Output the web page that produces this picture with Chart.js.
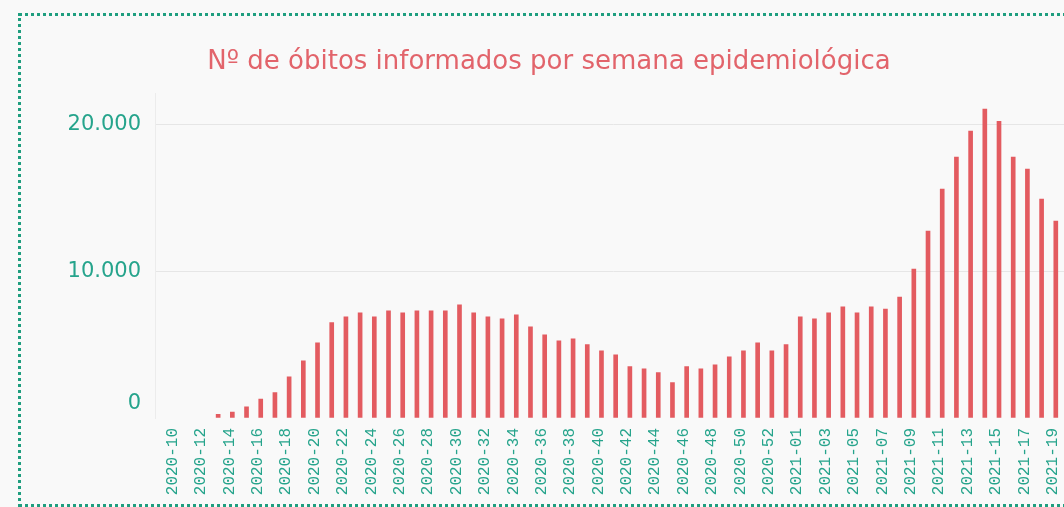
<!DOCTYPE html>
<html>
<head>
<meta charset="utf-8">
<script src="https://cdn.jsdelivr.net/npm/chart.js@4"></script>
<style>
  body { margin: 0; background: #f9f9f9; overflow: hidden; }
  #box {
    position: absolute; left: 18px; top: 13px;
    width: 1056px; height: 488px;
    border: 3px dotted #1f9e7f;
  }
  canvas { display: block; }
</style>
</head>
<body>
<div id="box"><canvas id="chart_1" width="1056" height="488"></canvas></div>
<script>
// semanas epidemiologicas
const weeks = [
  '2020-10', '2020-11', '2020-12', '2020-13', '2020-14', '2020-15', '2020-16', '2020-17',
  '2020-18', '2020-19', '2020-20', '2020-21', '2020-22', '2020-23', '2020-24', '2020-25',
  '2020-26', '2020-27', '2020-28', '2020-29', '2020-30', '2020-31', '2020-32', '2020-33',
  '2020-34', '2020-35', '2020-36', '2020-37', '2020-38', '2020-39', '2020-40', '2020-41',
  '2020-42', '2020-43', '2020-44', '2020-45', '2020-46', '2020-47', '2020-48', '2020-49',
  '2020-50', '2020-51', '2020-52', '2020-53', '2021-01', '2021-02', '2021-03', '2021-04',
  '2021-05', '2021-06', '2021-07', '2021-08', '2021-09', '2021-10', '2021-11', '2021-12',
  '2021-13', '2021-14', '2021-15', '2021-16', '2021-17', '2021-18', '2021-19',
];

// obitos por semana (null = sem barra)
const deaths = [
  null, null, null, 250, 400, 770, 1290, 1730,
  2810, 3900, 5130, 6500, 6900, 7180, 6900, 7310,
  7180, 7310, 7310, 7310, 7720, 7180, 6900, 6770,
  7040, 6220, 5680, 5270, 5400, 5000, 4580, 4310,
  3500, 3360, 3090, 2410, 3500, 3360, 3630, 4170,
  4580, 5130, 4580, 5000, 6900, 6770, 7180, 7580,
  7180, 7580, 7430, 8250, 10160, 12750, 15610, 17790,
  19560, 21060, 20240, 17790, 16970, 14930, 13430,
];

const yTicks = [0, 10000, 20000];

const red = '#e35b60';
const teal = '#26a48c';

function fmt(v) {
  return String(v).replace(/\B(?=(\d{3})+(?!\d))/g, '.');
}

const points = deaths.map(function (d, i) {
  return { x: i, y: d };
});

new Chart('chart_1', {
  type: 'bar',
  data: {
    datasets: [
      {
        data: points,
        backgroundColor: red,
        barThickness: 4,
      },
    ],
  },
  options: {
    responsive: false,
    animation: false,
    devicePixelRatio: 1,
    layout: { padding: 0 },
    plugins: {
      legend: { display: false },
      tooltip: { enabled: false },
      title: {
        display: true,
        text: 'Nº de óbitos informados por semana epidemiológica',
        color: '#e2646b',
        font: { family: 'DejaVu Sans', size: 26, weight: 'normal' },
        padding: { top: 31, bottom: 15 },
      },
    },
    scales: {
      x: {
        type: 'linear',
        min: -1.447,
        max: 63.06,
        offset: false,
        grid: { display: false, offset: false },
        border: { display: false },
        afterBuildTicks: function (scale) {
          scale.ticks = weeks
            .map(function (w, i) { return { value: i }; })
            .filter(function (t) { return t.value % 2 === 0; });
        },
        afterFit: function (scale) {
          scale.height = 86;
        },
        ticks: {
          autoSkip: false,
          maxRotation: 90,
          minRotation: 90,
          padding: 2,
          labelOffset: -3,
          color: teal,
          font: { family: 'Liberation Mono', size: 16 },
          callback: function (v) {
            return weeks[v];
          },
        },
      },
      y: {
        min: 0,
        max: 22150,
        afterBuildTicks: function (scale) {
          scale.ticks = yTicks.map(function (v) { return { value: v }; });
        },
        afterFit: function (scale) {
          scale.width = 134;
        },
        grid: {
          drawTicks: false,
          color: function (ctx) {
            return ctx.tick && ctx.tick.value === 0 ? 'rgba(0,0,0,0)' : '#e6e6e6';
          },
        },
        border: { display: true, color: '#ececec' },
        ticks: {
          padding: 14,
          color: teal,
          font: { family: 'DejaVu Sans', size: 21, lineHeight: 1.35 },
          callback: function (v) {
            // the zero label sits a bit above the baseline
            return v === 0 ? ['0', ''] : fmt(v);
          },
        },
      },
    },
  },
});
</script>
</body>
</html>
